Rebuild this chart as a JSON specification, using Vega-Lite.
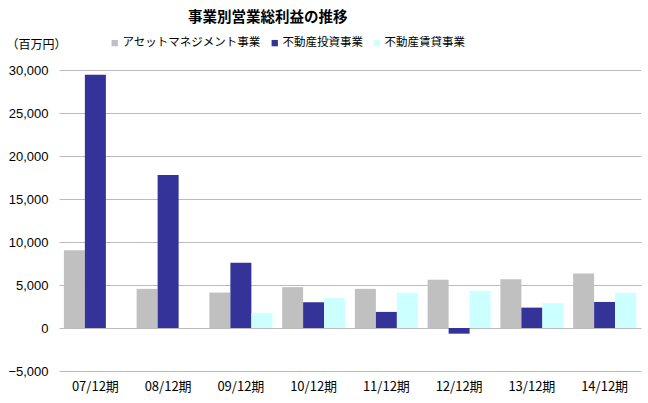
{
  "$schema": "https://vega.github.io/schema/vega-lite/v6.json",
  "width": 582,
  "height": 301,
  "autosize": {"type": "none"},
  "padding": {"left": 59, "top": 70, "right": 7, "bottom": 32},
  "background": "white",
  "title": {
    "text": "事業別営業総利益の推移",
    "anchor": "start",
    "frame": "group",
    "dx": 129,
    "offset": 12,
    "font": "Noto Sans CJK JP",
    "fontSize": 14.5,
    "fontWeight": "bold",
    "color": "#000000"
  },
  "config": {
    "view": {"stroke": null},
    "font": "Noto Sans CJK JP"
  },
  "data": {
    "values": [
      {"period": "07/12期", "segment": "アセットマネジメント事業", "value": 9050},
      {"period": "07/12期", "segment": "不動産投資事業", "value": 29450},
      {"period": "08/12期", "segment": "アセットマネジメント事業", "value": 4550},
      {"period": "08/12期", "segment": "不動産投資事業", "value": 17780},
      {"period": "09/12期", "segment": "アセットマネジメント事業", "value": 4120},
      {"period": "09/12期", "segment": "不動産投資事業", "value": 7590},
      {"period": "09/12期", "segment": "不動産賃貸事業", "value": 1750},
      {"period": "10/12期", "segment": "アセットマネジメント事業", "value": 4750},
      {"period": "10/12期", "segment": "不動産投資事業", "value": 3000},
      {"period": "10/12期", "segment": "不動産賃貸事業", "value": 3500},
      {"period": "11/12期", "segment": "アセットマネジメント事業", "value": 4550},
      {"period": "11/12期", "segment": "不動産投資事業", "value": 1870},
      {"period": "11/12期", "segment": "不動産賃貸事業", "value": 4090},
      {"period": "12/12期", "segment": "アセットマネジメント事業", "value": 5600},
      {"period": "12/12期", "segment": "不動産投資事業", "value": -660},
      {"period": "12/12期", "segment": "不動産賃貸事業", "value": 4320},
      {"period": "13/12期", "segment": "アセットマネジメント事業", "value": 5680},
      {"period": "13/12期", "segment": "不動産投資事業", "value": 2370},
      {"period": "13/12期", "segment": "不動産賃貸事業", "value": 2880},
      {"period": "14/12期", "segment": "アセットマネジメント事業", "value": 6340},
      {"period": "14/12期", "segment": "不動産投資事業", "value": 3030},
      {"period": "14/12期", "segment": "不動産賃貸事業", "value": 4090}
    ]
  },
  "mark": {"type": "bar"},
  "encoding": {
    "x": {
      "field": "period",
      "type": "nominal",
      "sort": null,
      "scale": {"paddingInner": 0.134, "paddingOuter": 0.067},
      "axis": {
        "title": null,
        "domain": false,
        "ticks": false,
        "grid": false,
        "labelAngle": 0,
        "labelFont": "Noto Sans CJK JP",
        "labelFontSize": 13,
        "labelColor": "#000000",
        "labelPadding": 9
      }
    },
    "xOffset": {
      "field": "segment",
      "type": "nominal",
      "scale": {"domain": ["アセットマネジメント事業", "不動産投資事業", "不動産賃貸事業"], "paddingInner": 0, "paddingOuter": 0}
    },
    "y": {
      "field": "value",
      "type": "quantitative",
      "scale": {"domain": [-5000, 30000], "nice": false, "zero": false},
      "axis": {
        "values": [-5000, 0, 5000, 10000, 15000, 20000, 25000, 30000],
        "format": ",d",
        "domain": false,
        "ticks": false,
        "grid": true,
        "gridColor": "#BBBBBB",
        "gridWidth": 1,
        "labelFont": "Liberation Sans",
        "labelFontSize": 13,
        "labelColor": "#000000",
        "labelPadding": 11,
        "title": "（百万円）",
        "titleAngle": 0,
        "titleAlign": "left",
        "titleBaseline": "middle",
        "titleX": -53,
        "titleY": -26,
        "titleFont": "Noto Sans CJK JP",
        "titleFontSize": 12,
        "titleFontWeight": "normal",
        "titleColor": "#000000"
      }
    },
    "color": {
      "field": "segment",
      "type": "nominal",
      "scale": {
        "domain": ["アセットマネジメント事業", "不動産投資事業", "不動産賃貸事業"],
        "range": ["#C0C0C0", "#333399", "#CCFFFF"]
      },
      "legend": {
        "title": null,
        "orient": "none",
        "direction": "horizontal",
        "legendX": 50,
        "legendY": -33,
        "padding": 0,
        "symbolType": "square",
        "symbolSize": 40,
        "symbolStrokeWidth": 0,
        "labelFont": "Noto Sans CJK JP",
        "labelFontSize": 11.5,
        "labelColor": "#000000",
        "labelOffset": 2,
        "columnPadding": 8
      }
    }
  }
}
